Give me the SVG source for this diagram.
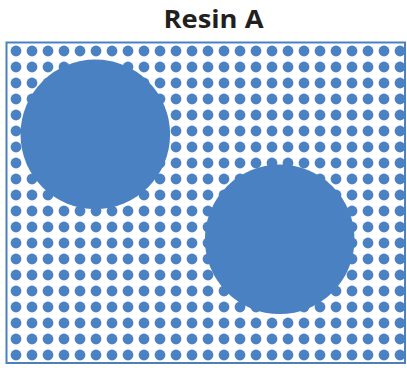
<svg xmlns="http://www.w3.org/2000/svg" width="407" height="368" viewBox="0 0 407 368">
  <style>
    .title { font-family: "Open Sans", "DejaVu Sans", sans-serif; font-weight: bold; font-size: 25px; fill: #231f20; }
    .blob { fill: #4a81c2; }
    .frame { fill: none; stroke: #4a81c2; stroke-width: 2; }
  </style>
  <defs>
    <!-- one resin bead per 16px cell -->
    <pattern id="beads" patternUnits="userSpaceOnUse" x="8" y="43" width="16" height="16">
      <circle cx="8" cy="8" r="5.4" fill="#4a81c2"/>
    </pattern>
  </defs>

  <text class="title" x="163.5" y="27.5" textLength="100" lengthAdjust="spacingAndGlyphs">Resin A</text>

  <g id="bed">
    <rect x="8" y="43" width="400" height="320" fill="url(#beads)"/>
  </g>

  <g id="particle-1">
    <circle class="blob" cx="95.3" cy="134.3" r="74.8"/>
  </g>
  <g id="particle-2">
    <circle class="blob" cx="279.7" cy="239.3" r="74.8"/>
  </g>

  <g id="frame">
    <rect class="frame" x="6.5" y="42.5" width="398.5" height="320.5"/>
  </g>
</svg>
